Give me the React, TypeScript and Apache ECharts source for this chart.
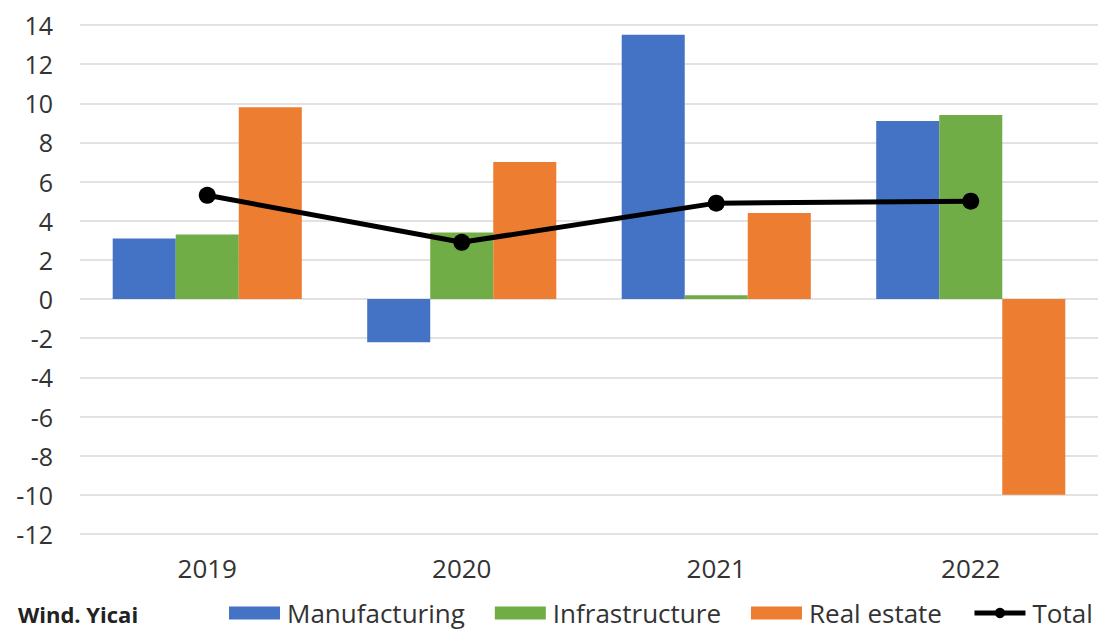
import React, { useEffect, useRef } from "react";
import * as echarts from "echarts";

// Annual contributions by sector, percentage points
const years = ["2019", "2020", "2021", "2022"];
const manufacturing = [3.1, -2.2, 13.5, 9.1];
const infrastructure = [3.3, 3.4, 0.2, 9.4];
const realEstate = [9.8, 7.0, 4.4, -10.0];
const total = [5.3, 2.9, 4.9, 5.0];

const FONT = "'Open Sans', 'Noto Sans', sans-serif";
const TEXT = "#333333";

export default function App() {
  const ref = useRef<HTMLDivElement>(null);

  useEffect(() => {
    if (!ref.current) return;
    const chart = echarts.init(ref.current, null, { renderer: "svg" });
    chart.setOption({
      animation: false,
      backgroundColor: "#ffffff",
      textStyle: { fontFamily: FONT },
      grid: { left: 80, right: 11, top: 25, bottom: 98, containLabel: false },
      legend: {
        left: 229,
        top: 600,
        padding: 0,
        itemWidth: 51,
        itemHeight: 13,
        itemGap: 30,
        textStyle: {
          fontSize: 26,
          lineHeight: 26,
          color: TEXT,
          fontFamily: FONT,
          padding: [0, 0, 0, 2],
        },
        data: [
          { name: "Manufacturing", icon: "rect" },
          { name: "Infrastructure", icon: "rect" },
          { name: "Real estate", icon: "rect" },
          { name: "Total", lineStyle: { width: 5, color: "#000000" } },
        ],
      },
      xAxis: {
        type: "category",
        data: years,
        axisLine: { show: false, onZero: false },
        axisTick: { show: false },
        axisLabel: { fontSize: 26, color: TEXT, margin: 21, fontFamily: FONT },
      },
      yAxis: {
        type: "value",
        min: -12,
        max: 14,
        interval: 2,
        axisLine: { show: false },
        axisTick: { show: false },
        axisLabel: { fontSize: 25, color: TEXT, margin: 27, fontFamily: FONT },
        splitLine: { lineStyle: { color: "#d9d9d9", width: 1.5 } },
      },
      series: [
        {
          name: "Manufacturing",
          type: "bar",
          data: manufacturing,
          itemStyle: { color: "#4472C4" },
          barGap: "0%",
          barCategoryGap: "25.7%",
        },
        {
          name: "Infrastructure",
          type: "bar",
          data: infrastructure,
          itemStyle: { color: "#70AD47" },
        },
        {
          name: "Real estate",
          type: "bar",
          data: realEstate,
          itemStyle: { color: "#ED7D31" },
        },
        {
          name: "Total",
          type: "line",
          data: total,
          symbol: "circle",
          symbolSize: 17,
          itemStyle: { color: "#000000" },
          lineStyle: { color: "#000000", width: 5 },
          z: 5,
        },
      ],
      graphic: [
        {
          type: "text",
          left: 18,
          top: 603,
          style: {
            text: "Wind. Yicai",
            fontSize: 22,
            lineHeight: 22,
            fontWeight: "bold",
            fontFamily: FONT,
            fill: "#222222",
          },
        },
      ],
    });
    return () => chart.dispose();
  }, []);

  return (
    <div
      ref={ref}
      style={{ position: "absolute", left: 0, top: 0, width: 1109, height: 632 }}
    />
  );
}
